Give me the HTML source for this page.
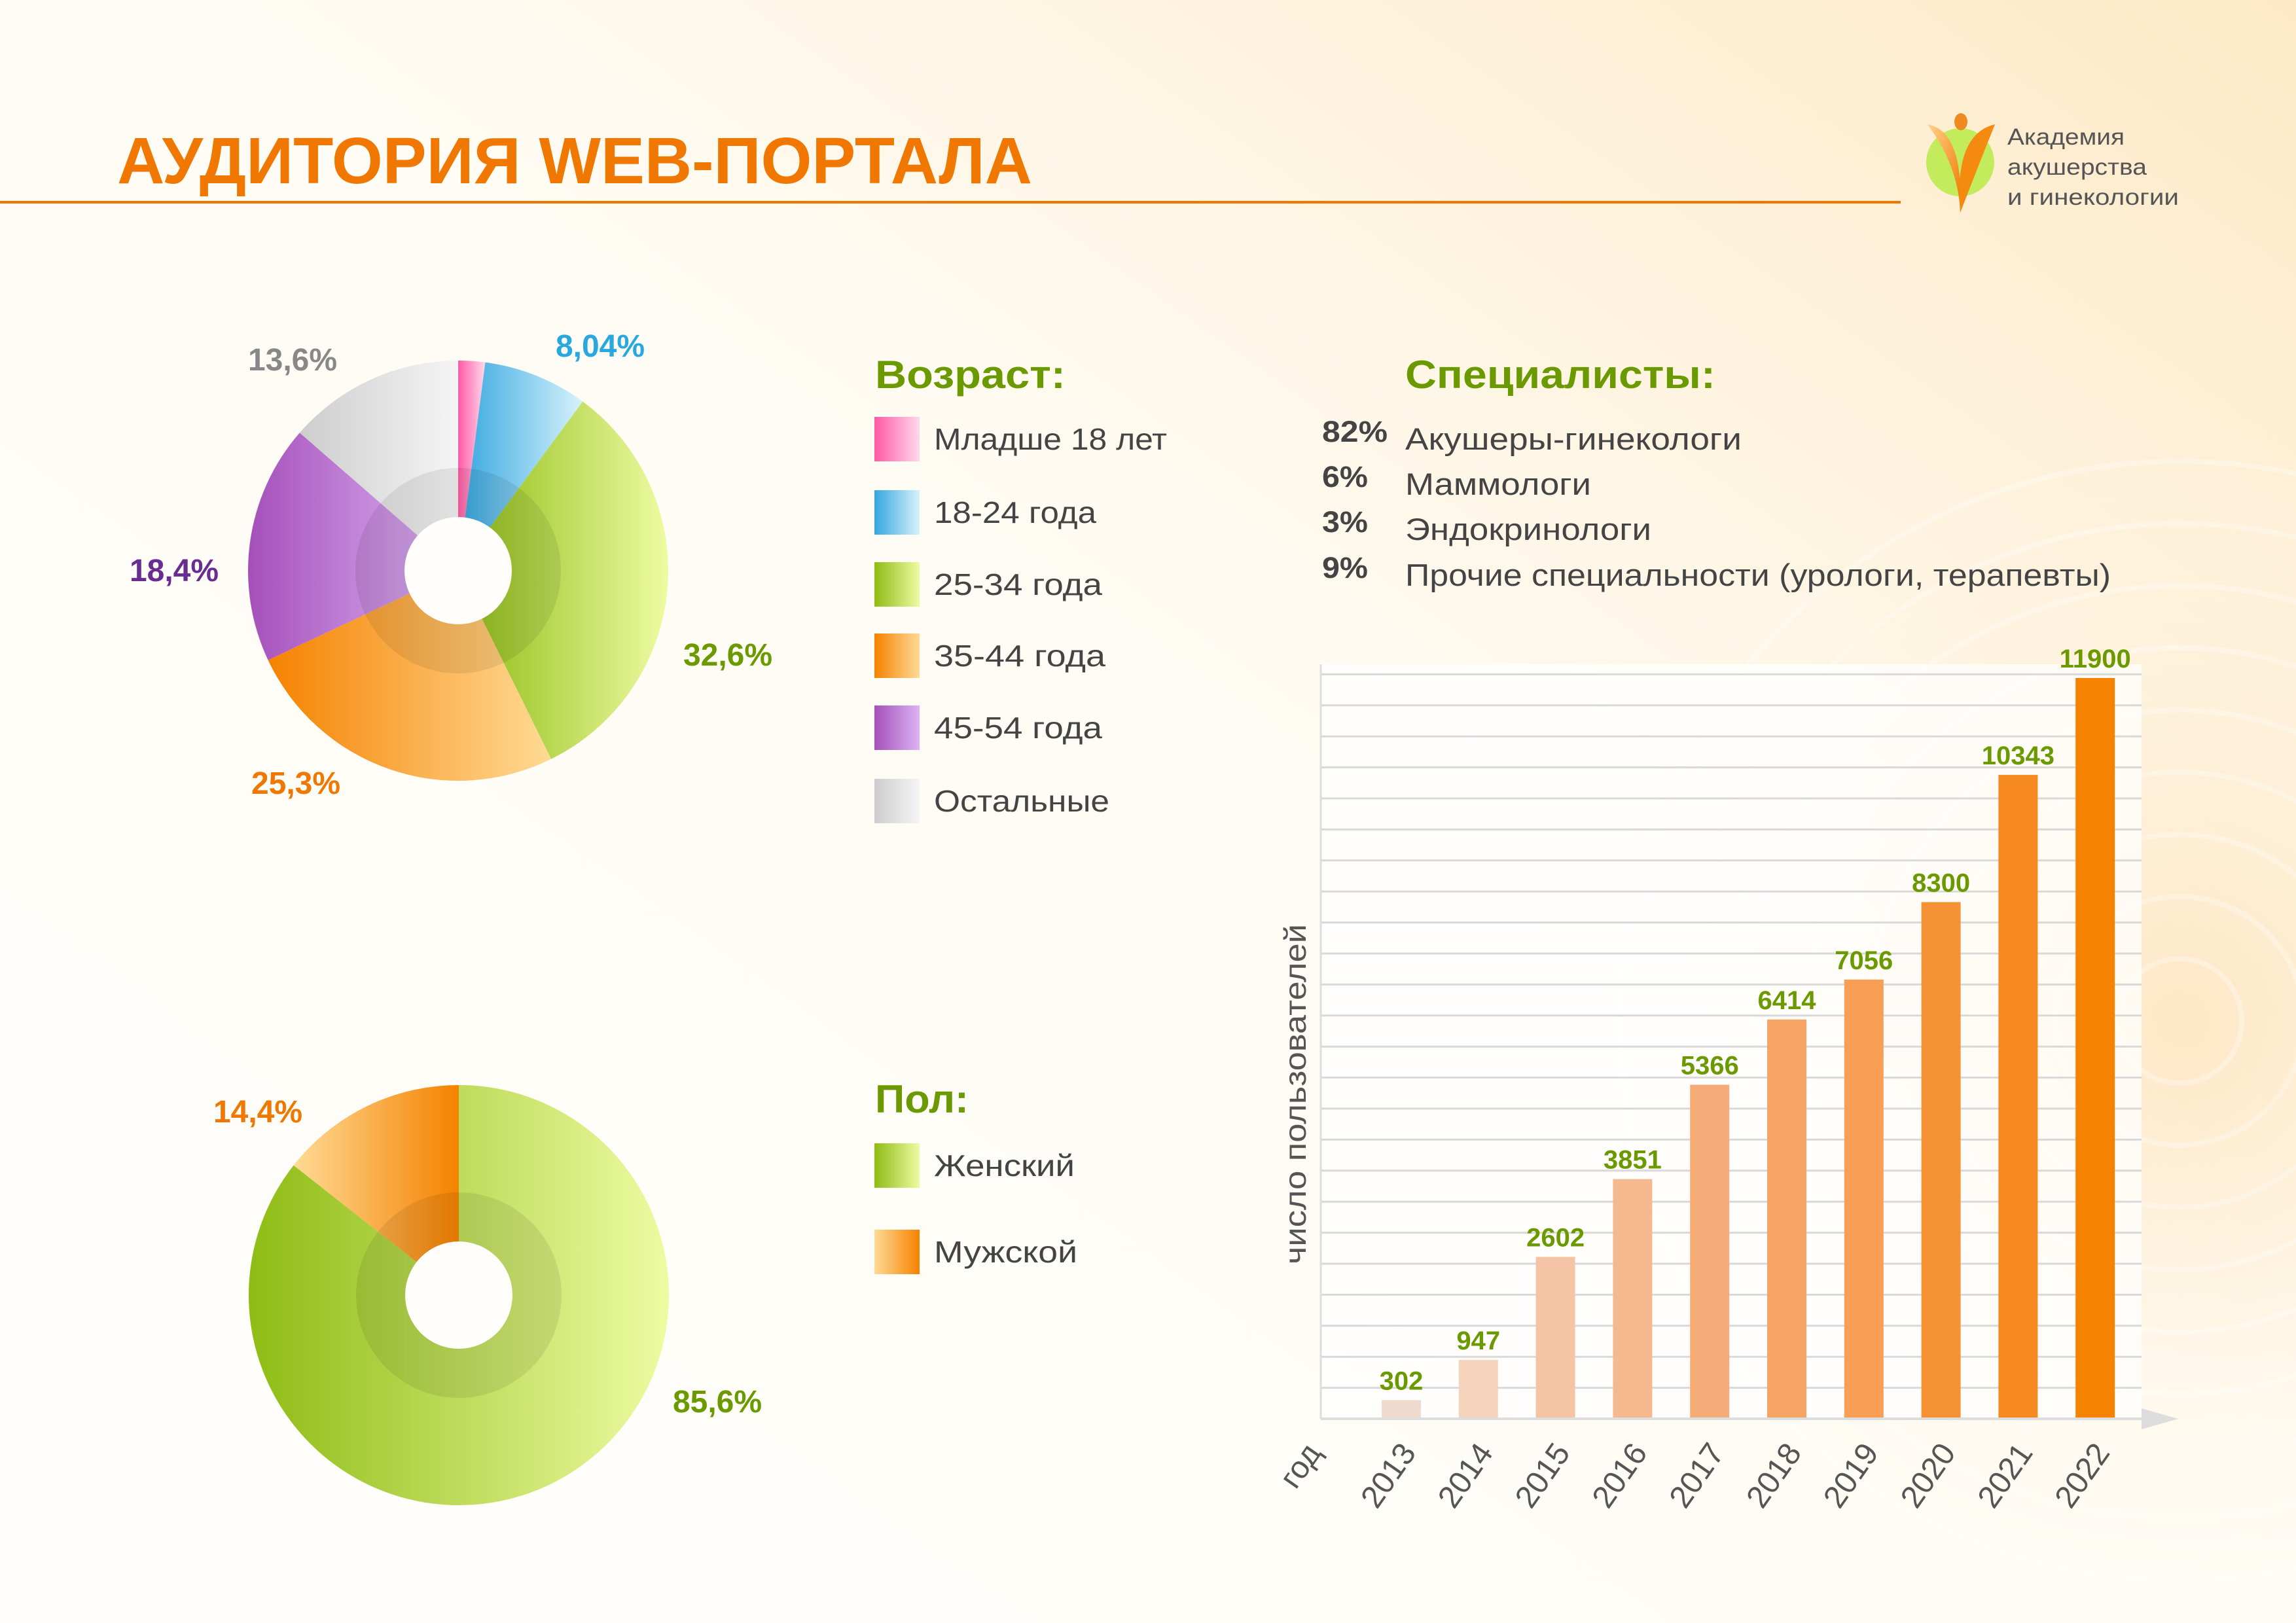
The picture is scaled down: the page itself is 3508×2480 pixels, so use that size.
<!DOCTYPE html>
<html><head><meta charset="utf-8">
<style>
html,body{margin:0;padding:0;background:#fffdf8;}
svg{display:block;font-family:"Liberation Sans",sans-serif;}
</style></head>
<body>
<svg id="root" width="3508" height="2480" viewBox="0 0 3508 2480" xmlns="http://www.w3.org/2000/svg">
<defs>
 <linearGradient id="bg" x1="0" y1="1" x2="1" y2="0">
  <stop offset="0" stop-color="#fffefb"/><stop offset="0.55" stop-color="#fffcf5"/><stop offset="1" stop-color="#fde9c6"/>
 </linearGradient>
 <radialGradient id="glow" cx="3330" cy="1560" r="900" gradientUnits="userSpaceOnUse">
  <stop offset="0" stop-color="#fde3bb" stop-opacity="0.8"/><stop offset="1" stop-color="#fff6e6" stop-opacity="0"/>
 </radialGradient>
 <linearGradient id="g-pink"><stop offset="0" stop-color="#ff5aa5"/><stop offset="1" stop-color="#ffd8ec"/></linearGradient>
 <linearGradient id="g-blue"><stop offset="0" stop-color="#35a6df"/><stop offset="1" stop-color="#d6f2fc"/></linearGradient>
 <linearGradient id="g-green"><stop offset="0" stop-color="#8ebc14"/><stop offset="1" stop-color="#eefba2"/></linearGradient>
 <linearGradient id="g-orange"><stop offset="0" stop-color="#f58200"/><stop offset="1" stop-color="#ffda95"/></linearGradient>
 <linearGradient id="g-purple"><stop offset="0" stop-color="#a550ba"/><stop offset="1" stop-color="#dcb3f3"/></linearGradient>
 <linearGradient id="g-gray"><stop offset="0" stop-color="#cdcdcd"/><stop offset="1" stop-color="#f5f5f5"/></linearGradient>
 <linearGradient id="g-orange-r"><stop offset="0" stop-color="#ffda95"/><stop offset="1" stop-color="#f58200"/></linearGradient>
 <linearGradient id="g-logo" x1="0" y1="0" x2="1" y2="1"><stop offset="0" stop-color="#ffd28a"/><stop offset="1" stop-color="#f07800"/></linearGradient>
</defs>
<rect x="0" y="0" width="3508" height="2480" fill="url(#bg)"/>
<rect x="0" y="0" width="3508" height="2480" fill="url(#glow)"/>
<g id="rings" fill="none" stroke="#ffffff" stroke-opacity="0.3" stroke-width="8"></g>

<text x="179" y="280" font-size="100" font-weight="bold" fill="#f07800" textLength="1398" lengthAdjust="spacingAndGlyphs">АУДИТОРИЯ WEB-ПОРТАЛА</text>
<rect x="0" y="307" width="2904" height="4" fill="#f07800"/>

<g>
 <circle cx="2995" cy="248" r="52" fill="#c3ec5d"/>
 <path d="M2945 190 Q3000 200 2995 320 Q2990 250 2945 190Z" fill="url(#g-logo)"/>
 <path d="M3048 190 Q2985 205 2995 325 Q3020 260 3048 190Z" fill="#f58a10"/>
 <ellipse cx="2996" cy="186" rx="10" ry="13" fill="#f08a20"/>
 <text x="3067" y="221" font-size="35" fill="#555" textLength="179" lengthAdjust="spacingAndGlyphs">Академия</text>
 <text x="3067" y="267" font-size="35" fill="#555" textLength="213" lengthAdjust="spacingAndGlyphs">акушерства</text>
 <text x="3067" y="313" font-size="35" fill="#555" textLength="262" lengthAdjust="spacingAndGlyphs">и гинекологии</text>
</g>

<g id="pie-age"></g>
<g id="pie-sex"></g>

<g>
 <text x="1337" y="593" font-size="60" font-weight="bold" fill="#6a9a00" textLength="291" lengthAdjust="spacingAndGlyphs">Возраст:</text>
 <g id="age-legend-items"></g>
</g>
<g>
 <text x="1337" y="1700" font-size="60" font-weight="bold" fill="#6a9a00" textLength="143" lengthAdjust="spacingAndGlyphs">Пол:</text>
 <g id="sex-legend-items"></g>
</g>

<g>
 <text x="2147" y="593" font-size="60" font-weight="bold" fill="#6a9a00" textLength="474" lengthAdjust="spacingAndGlyphs">Специалисты:</text>
 <g id="spec-items"></g>
</g>

<g id="bar-chart"></g>

<script>
const NS="http://www.w3.org/2000/svg";
function mk(tag,attrs,parent,text){const e=document.createElementNS(NS,tag);for(const k in attrs)e.setAttribute(k,attrs[k]);if(text!==undefined)e.textContent=text;parent.appendChild(e);return e;}

const rings=document.getElementById('rings');
for(let i=1;i<=9;i++){const c=mk('circle',{cx:3330,cy:1560,r:i*95},rings);

}

// ===== Age donut data =====
const ageCategories=["Младше 18 лет","18-24 года","25-34 года","35-44 года","45-54 года","Остальные"];
const ageValues=[2.06,8.04,32.6,25.3,18.4,13.6];
const ageLabels=["","8,04%","32,6%","25,3%","18,4%","13,6%"];
const ageFills=["url(#g-pink)","url(#g-blue)","url(#g-green)","url(#g-orange)","url(#g-purple)","url(#g-gray)"];
const ageLabelColors=["#ff5aa5","#29a8e0","#6a9a00","#f07800","#6a2c91","#888888"];
const ageLabelPos=[[0,0],[917,545],[1112,1017],[452,1213],[266,888],[447,566]];

// ===== Gender donut data =====
const sexCategories=["Женский","Мужской"];
const sexValues=[85.6,14.4];
const sexLabels=["85,6%","14,4%"];
const sexFills=["url(#g-green)","url(#g-orange-r)"];
const sexLabelColors=["#6a9a00","#f07800"];
const sexLabelPos=[[1096,2158],[394,1715]];

function arcPath(cx,cy,r,a0,a1){
 const p=a=>[cx+r*Math.sin(a),cy-r*Math.cos(a)];
 const [x0,y0]=p(a0),[x1,y1]=p(a1);const large=(a1-a0)>Math.PI?1:0;
 return `M${cx} ${cy} L${x0} ${y0} A${r} ${r} 0 ${large} 1 ${x1} ${y1} Z`;
}
function donut(g,cx,cy,R,values,fills,labels,lcolors,lpos,names){
 const total=values.reduce((a,b)=>a+b,0);let a=0;
 values.forEach((v,i)=>{const a1=a+v/total*2*Math.PI;
  const p=mk('path',{d:arcPath(cx,cy,R,a,a1),fill:fills[i]},g);
  
  
  a=a1;});
 const ring=mk('circle',{cx:cx,cy:cy,r:157,fill:'#000','fill-opacity':0.08},g);
 
 
 const hole=mk('circle',{cx:cx,cy:cy,r:82,fill:'#fffefb'},g);
 
 
 labels.forEach((t,i)=>{if(!t)return;
  const tx=mk('text',{x:lpos[i][0],y:lpos[i][1],'font-size':48,'font-weight':'bold',fill:lcolors[i],'text-anchor':'middle'},g,t);
  
  });
}
donut(document.getElementById('pie-age'),700,872,321,ageValues,ageFills,ageLabels,ageLabelColors,ageLabelPos,["under-18","18-24","25-34","35-44","45-54","other"]);
donut(document.getElementById('pie-sex'),701,1979,321,sexValues,sexFills,sexLabels,sexLabelColors,sexLabelPos,["female","male"]);

function legend(gid,cats,fills,ys,names,widths){
 const g=document.getElementById(gid);
 cats.forEach((c,i)=>{
  const r=mk('rect',{x:1336,y:ys[i]-34,width:69,height:68,fill:fills[i]},g);
  
  
  const t=mk('text',{x:1427,y:ys[i]+16,'font-size':46,fill:'#444',textLength:widths[i],lengthAdjust:'spacingAndGlyphs'},g,c);
  
  });
}
legend('age-legend-items',ageCategories,ageFills,[671,783,893,1002,1112,1224],["under-18","18-24","25-34","35-44","45-54","other"],[356,248,257,262,257,268]);
legend('sex-legend-items',sexCategories,sexFills,[1781,1913],["female","male"],[215,219]);

const specPct=["82%","6%","3%","9%"];
const specNames=["Акушеры-гинекологи","Маммологи","Эндокринологи","Прочие специальности (урологи, терапевты)"];
const specWidths=[514,284,376,1078];
const pctWidths=[100,70,70,70];
const specG=document.getElementById('spec-items');
specNames.forEach((n,i)=>{const y=[687,756,825,895][i];
 const p=mk('text',{x:2020,y:y-12,'font-size':45,'font-weight':'bold',fill:'#444',textLength:pctWidths[i],lengthAdjust:'spacingAndGlyphs'},specG,specPct[i]);
 
 
 const t=mk('text',{x:2147,y:y,'font-size':47,fill:'#444',textLength:specWidths[i],lengthAdjust:'spacingAndGlyphs'},specG,n);
 
 });

// ===== Bar chart data =====
const years=["2013","2014","2015","2016","2017","2018","2019","2020","2021","2022"];
const users=[302,947,2602,3851,5366,6414,7056,8300,10343,11900];
const barColors=["#efdacd","#f5d3bd","#f4c4a5","#f6b98f","#f5ac79","#f7a566","#f89e55","#f69236","#f68a20","#f58200"];

const bc=document.getElementById('bar-chart');
const X0=2018,Y0=2168,plotH=1132,maxV=11900,firstX=2141,pitch=117.8,barW=60;
const yScale=v=>Y0-v/maxV*plotH;
const xScale=i=>firstX+i*pitch;
const pb=mk('rect',{x:X0,y:1015,width:1254,height:Y0-1015,fill:'#ffffff','fill-opacity':0.75},bc);


for(let k=1;k<=24;k++){const y=Y0-k*47.4;
 const l=mk('line',{x1:X0,y1:y,x2:3272,y2:y,stroke:'#d9d9d9','stroke-width':3},bc);
 
 }
const ya=mk('line',{x1:X0,y1:1015,x2:X0,y2:Y0,stroke:'#dddddd','stroke-width':3},bc);


users.forEach((v,i)=>{const y=yScale(v);const cx=xScale(i);
 const b=mk('rect',{x:cx-barW/2,y:y,width:barW,height:Y0-y,fill:barColors[i]},bc);
 
 
 const t=mk('text',{x:cx,y:y-16,'font-size':40,'font-weight':'bold',fill:'#6a9a00','text-anchor':'middle'},bc,String(v));
 
 
 const yl=mk('text',{x:0,y:0,'font-size':48,fill:'#555','text-anchor':'end',transform:`translate(${cx+24},${Y0+52}) rotate(-55)`},bc,years[i]);
 
 });
const xa=mk('line',{x1:X0,y1:Y0,x2:3275,y2:Y0,stroke:'#dddddd','stroke-width':4},bc);


const ar=mk('path',{d:`M3272 ${Y0-16} L3328 ${Y0} L3272 ${Y0+16} Z`,fill:'#dddddd'},bc);


const xt=mk('text',{x:0,y:0,'font-size':48,fill:'#555','text-anchor':'end',transform:`translate(${2020},${Y0+52}) rotate(-55)`},bc,'год');


const yt=mk('text',{x:0,y:0,'font-size':46,fill:'#555','text-anchor':'middle',textLength:520,lengthAdjust:'spacingAndGlyphs',transform:'translate(1995,1672) rotate(-90)'},bc,'число пользователей');


</script>
</svg>
</body></html>
